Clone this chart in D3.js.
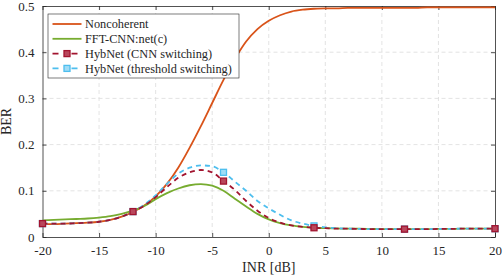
<!DOCTYPE html>
<html>
<head>
<meta charset="utf-8">
<script src="https://cdn.jsdelivr.net/npm/d3@7"></script>
<style>
  body { margin: 0; background: #fff; }
</style>
</head>
<body>
<div id="chart"></div>
<script>
// INR grid in dB
const inr = d3.range(-20, 21);
const xTicks = [-20, -15, -10, -5, 0, 5, 10, 15, 20];
const yTicks = [0, 0.1, 0.2, 0.3, 0.4, 0.5];
const markerAt = [-20, -12, -4, 4, 12, 20];

const noncoherent = [0.028, 0.028, 0.029, 0.030, 0.031, 0.033, 0.037, 0.044, 0.054, 0.068,
  0.088, 0.115, 0.150, 0.193, 0.240, 0.290, 0.340, 0.385, 0.423, 0.450,
  0.468, 0.480, 0.488, 0.492, 0.494, 0.495, 0.495, 0.496, 0.496, 0.496,
  0.496, 0.496, 0.496, 0.496, 0.497, 0.497, 0.497, 0.497, 0.497, 0.497, 0.497];
const fftCnn = [0.036, 0.037, 0.038, 0.039, 0.040, 0.042, 0.045, 0.050, 0.057, 0.067,
  0.082, 0.095, 0.105, 0.112, 0.1145, 0.111, 0.100, 0.083, 0.066, 0.050,
  0.038, 0.030, 0.025, 0.022, 0.020, 0.019, 0.0185, 0.018, 0.018, 0.0175,
  0.017, 0.017, 0.017, 0.017, 0.017, 0.0175, 0.0175, 0.018, 0.018, 0.018, 0.018];
const hybCnn = [0.029, 0.029, 0.029, 0.030, 0.031, 0.033, 0.037, 0.044, 0.055, 0.068,
  0.086, 0.108, 0.128, 0.140, 0.145, 0.140, 0.121, 0.102, 0.078, 0.057,
  0.041, 0.031, 0.025, 0.022, 0.020, 0.019, 0.018, 0.018, 0.0175, 0.017,
  0.017, 0.017, 0.017, 0.017, 0.017, 0.0175, 0.0175, 0.018, 0.018, 0.018, 0.018];
const hybThr = [0.029, 0.029, 0.029, 0.030, 0.031, 0.033, 0.037, 0.044, 0.055, 0.070,
  0.090, 0.115, 0.137, 0.150, 0.155, 0.153, 0.140, 0.120, 0.100, 0.078,
  0.062, 0.048, 0.036, 0.029, 0.024, 0.021, 0.019, 0.018, 0.0175, 0.017,
  0.017, 0.017, 0.017, 0.017, 0.017, 0.0175, 0.0175, 0.018, 0.018, 0.018, 0.018];

const series = [
  {name: 'Noncoherent', values: noncoherent, color: '#D95319', dash: null, marker: false},
  {name: 'FFT-CNN:net(c)', values: fftCnn, color: '#77AC30', dash: null, marker: false},
  {name: 'HybNet (CNN switching)', values: hybCnn, color: '#A2142F', dash: '5,4', marker: true, light: '#b9475c'},
  {name: 'HybNet (threshold switching)', values: hybThr, color: '#4DBEEE', dash: '5,4', marker: true, light: '#9fdcf6'}
];
// draw order: threshold under CNN switching
const drawOrder = [0, 1, 3, 2];
const FONT = "'Liberation Serif', Tinos, 'DejaVu Serif', serif";

const W = 503, H = 278;
const margin = {top: 6, right: 8, bottom: 41, left: 42.5};
const width = W - margin.left - margin.right, height = H - margin.top - margin.bottom;

const root = d3.select('#chart').append('svg')
  .attr('width', W).attr('height', H)
  .attr('font-family', FONT);
const svg = root.append('g')
  .attr('transform', `translate(${margin.left},${margin.top})`);

const x = d3.scaleLinear().domain([-20, 20]).range([0, width]);
const y = d3.scaleLinear().domain([0, 0.5]).range([height, 0]);

// grid
svg.append('g').selectAll('line').data(xTicks.slice(1, -1)).join('line')
  .attr('x1', d => x(d)).attr('x2', d => x(d)).attr('y1', 0).attr('y2', height)
  .attr('stroke', '#dcdcdc').attr('stroke-width', 0.8).attr('stroke-dasharray', '4,3');
svg.append('g').selectAll('line').data(yTicks.slice(1, -1)).join('line')
  .attr('y1', d => y(d)).attr('y2', d => y(d)).attr('x1', 0).attr('x2', width)
  .attr('stroke', '#dcdcdc').attr('stroke-width', 0.8).attr('stroke-dasharray', '4,3');

// axes
const xAxis = svg.append('g').attr('transform', `translate(0,${height})`)
  .call(d3.axisBottom(x).tickValues(xTicks).tickFormat(d => String(d))
    .tickSizeInner(-4).tickSizeOuter(0).tickPadding(9));
const yAxis = svg.append('g')
  .call(d3.axisLeft(y).tickValues(yTicks).tickFormat(d => d === 0 ? '0' : d3.format('.1f')(d))
    .tickSizeInner(-4).tickSizeOuter(0).tickPadding(8));
const xTop = svg.append('g')
  .call(d3.axisTop(x).tickValues(xTicks).tickSizeInner(-4).tickSizeOuter(0).tickFormat(''));
const yRight = svg.append('g').attr('transform', `translate(${width},0)`)
  .call(d3.axisRight(y).tickValues(yTicks).tickSizeInner(-4).tickSizeOuter(0).tickFormat(''));
[xAxis, yAxis, xTop, yRight].forEach(a => {
  a.attr('font-family', FONT).attr('font-size', 13);
  a.select('.domain').attr('stroke', '#262626').attr('stroke-width', 0.8);
  a.selectAll('.tick line').attr('stroke', '#262626').attr('stroke-width', 0.8);
  a.selectAll('text').attr('fill', '#262626');
});

// lines
const line = d3.line().x((d, i) => x(inr[i])).y(d => y(d)).curve(d3.curveMonotoneX);
drawOrder.forEach(k => {
  const s = series[k];
  svg.append('path').datum(s.values)
    .attr('fill', 'none').attr('stroke', s.color).attr('stroke-width', 1.8)
    .attr('stroke-dasharray', s.dash).attr('d', line);
  if (s.marker) {
    svg.append('g').selectAll('rect').data(markerAt).join('rect')
      .attr('x', d => x(d) - 3).attr('y', d => y(s.values[inr.indexOf(d)]) - 3)
      .attr('width', 6).attr('height', 6)
      .attr('fill', s.light).attr('stroke', s.color).attr('stroke-width', 1.3);
  }
});

// axis labels
svg.append('text').attr('x', width / 2).attr('y', height + 35)
  .attr('text-anchor', 'middle').attr('font-size', 14).attr('fill', '#262626').text('INR [dB]');
svg.append('text').attr('transform', `translate(${-32},${height / 2}) rotate(-90)`)
  .attr('text-anchor', 'middle').attr('font-size', 14).attr('fill', '#262626').text('BER');

// legend
const lg = svg.append('g').attr('transform', `translate(${48 - margin.left},${14 - margin.top})`);
lg.append('rect').attr('width', 191).attr('height', 64)
  .attr('fill', '#fff').attr('stroke', '#262626').attr('stroke-width', 0.6);
series.forEach((s, i) => {
  const yy = 10 + i * 14.8;
  lg.append('line').attr('x1', 4.5).attr('x2', 33.5).attr('y1', yy).attr('y2', yy)
    .attr('stroke', s.color).attr('stroke-width', 1.8).attr('stroke-dasharray', s.dash ? '6,4,0,9,6' : null);
  if (s.marker) {
    lg.append('rect').attr('x', 19 - 3).attr('y', yy - 3).attr('width', 6).attr('height', 6)
      .attr('fill', s.light).attr('stroke', s.color).attr('stroke-width', 1.3);
  }
  lg.append('text').attr('x', 37).attr('y', yy + 4.3).attr('font-size', 12.3).attr('fill', '#262626').text(s.name);
});
</script>
</body>
</html>
